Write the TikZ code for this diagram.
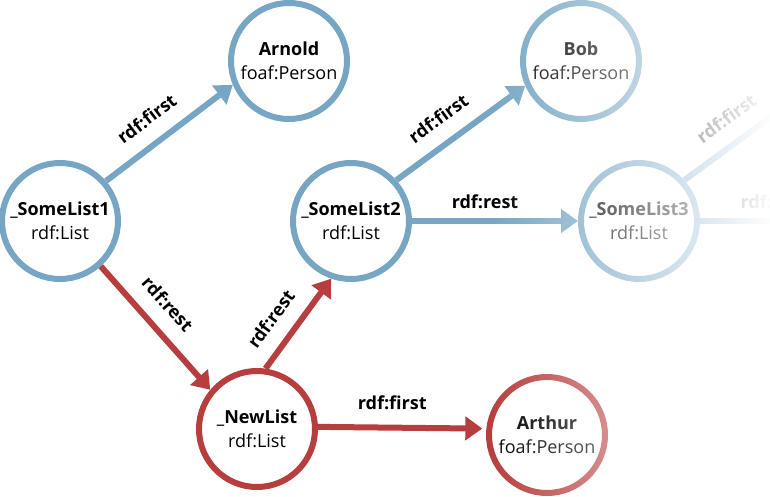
\documentclass[tikz,border=0pt]{standalone}
\usepackage{fontspec}
\setmainfont{Open Sans}
\usetikzlibrary{arrows.meta}
\definecolor{rdfblue}{HTML}{76A6C4}
\definecolor{rdfred}{HTML}{B73E3E}
\begin{document}
\begin{tikzpicture}[x=1pt,y=1pt,
  rdfnode/.style={circle, minimum size=116pt, inner sep=0pt, line width=6pt,
    fill=white, align=center, font=\fontsize{18}{24}\selectfont, text=black},
  bluenode/.style={rdfnode, draw=rdfblue},
  rednode/.style={rdfnode, draw=rdfred},
  ghostnode/.style={circle, minimum size=116pt, inner sep=0pt, line width=6pt, draw=none},
  rdfedge/.style={line width=6pt, -{Triangle[length=17pt,width=23pt]}},
  blueedge/.style={rdfedge, draw=rdfblue},
  rededge/.style={rdfedge, draw=rdfred},
  elabelbase/.style={font=\bfseries\fontsize{18}{22}\selectfont, text=black,
    sloped, pos=0.44, inner sep=3pt},
  elabel/.style={elabelbase, above=12pt},
  elabellow/.style={elabelbase, above=6pt}
]
\useasboundingbox (0,0) rectangle (770,496);
\clip (0,0) rectangle (770,496);

% nodes
\node[bluenode] (SomeList1) at (60,275) {\textbf{\_SomeList1}\\rdf:List};
\node[bluenode] (Arnold)    at (289,435) {\textbf{Arnold}\\foaf:Person};
\node[bluenode] (SomeList2) at (351,275) {\textbf{\_SomeList2}\\rdf:List};
\node[bluenode] (Bob)       at (581,435) {\textbf{Bob}\\foaf:Person};
\node[bluenode] (SomeList3) at (639,275) {\textbf{\_SomeList3}\\rdf:List};
\node[rednode]  (NewList)   at (257,67) {\textbf{\_NewList}\\rdf:List};
\node[rednode]  (Arthur)    at (547,61) {\textbf{Arthur}\\foaf:Person};
\node[ghostnode] (Next1)     at (869,435) {};
\node[ghostnode] (SomeList4) at (929,275) {};

% edges
\draw[blueedge] (SomeList1.41) -- node[elabel] {rdf:first} (Arnold.203);
\draw[blueedge] (SomeList2.42) -- node[elabel] {rdf:first} (Bob.204);
\draw[blueedge] (SomeList2) -- node[elabellow] {rdf:rest} (SomeList3);
\draw[blueedge] (SomeList3.42) -- node[elabel] {rdf:first} (Next1.204);
\draw[blueedge] (SomeList3) -- node[elabellow] {rdf:rest} (SomeList4);
\draw[rededge] (SomeList1.-48) -- node[elabel] {rdf:rest} (NewList.140);
\draw[rededge] (NewList.82) -- node[elabel, pos=0.39] {rdf:rest} (SomeList2.251);
\draw[rededge, shorten >=4pt] (NewList.2) -- node[elabel] {rdf:first} (Arthur.174);

% fade towards the right edge
\foreach \i in {0,...,284} {
  \pgfmathsetmacro\fadeop{(\i+0.5)/285}
  \fill[white, fill opacity=\fadeop] (490+\i,0) rectangle (491+\i,496);
}
\end{tikzpicture}
\end{document}
